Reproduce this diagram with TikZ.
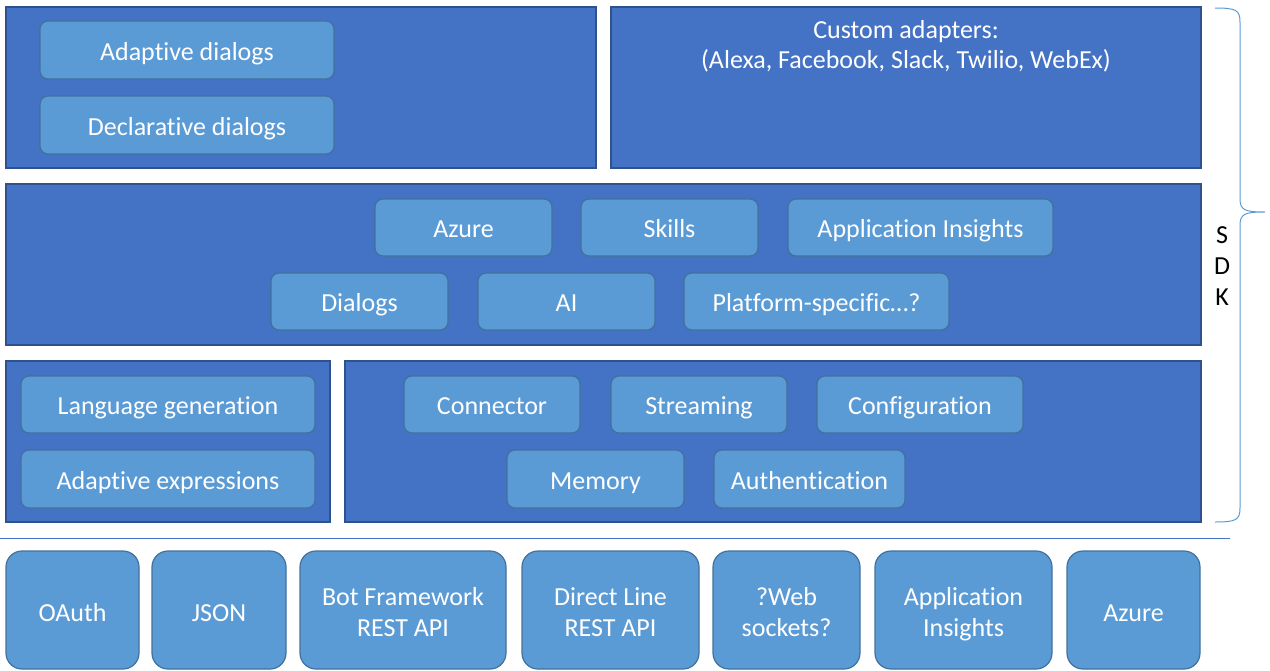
\documentclass[tikz,border=0pt]{standalone}
\usepackage{fontspec}
\setmainfont{Carlito}[Ligatures={NoCommon}]
\definecolor{panelfill}{HTML}{4472C4}
\definecolor{paneldraw}{HTML}{2F528F}
\definecolor{boxfill}{HTML}{5B9BD5}
\definecolor{boxdraw}{HTML}{41719C}
\begin{document}
\begin{tikzpicture}[x=1pt,y=-1pt,
  panel/.style={draw=paneldraw, fill=panelfill, line width=1.5pt, inner sep=0pt, minimum height=161pt},
  ibox/.style={draw=boxdraw, fill=boxfill, line width=1.2pt, rounded corners=8pt, inner sep=0pt, text=white,
     font=\fontsize{26}{31}\selectfont, text height=20pt, text depth=0pt},
  bbox/.style={draw=boxdraw, fill=boxfill, line width=1.2pt, rounded corners=16pt, inner sep=0pt, text=white,
     minimum height=118pt, font=\fontsize{26}{31}\selectfont, text height=22pt, text depth=0pt},
  lbl/.style={text=white, font=\fontsize{26}{31}\selectfont, inner sep=0pt, anchor=base},
  sdkl/.style={text=black, font=\fontsize{26}{31}\selectfont, inner sep=0pt, anchor=base}
]
\useasboundingbox (0,0) rectangle (1270,670);
% panels
\node[panel, minimum width=590pt] (ptl) at (301,87.5) {};
\node[panel, minimum width=590pt] (ptr) at (906,87.5) {};
\node[panel, minimum width=1195pt] (pmid) at (603.5,264.5) {};
\node[panel, minimum width=324pt] (pbl) at (168,441.5) {};
\node[panel, minimum width=856pt] (pbr) at (773,441.5) {};
\node[lbl] (cust1) at (906,38.5) {Custom adapters:};
\node[lbl] (cust2) at (906,68.5) {(Alexa, Facebook, Slack, Twilio, WebEx)};
% top-left boxes
\node[ibox, minimum width=294pt, minimum height=58pt] (adl) at (187,50) {Adaptive dialogs};
\node[ibox, minimum width=294pt, minimum height=58pt] (ddl) at (187,125) {Declarative dialogs};
% middle
\node[ibox, minimum width=177pt, minimum height=57pt] (az) at (463.5,227.5) {Azure};
\node[ibox, minimum width=177pt, minimum height=57pt] (sk) at (669.5,227.5) {Skills};
\node[ibox, minimum width=265pt, minimum height=57pt] (ai1) at (920.5,227.5) {Application Insights};
\node[ibox, minimum width=177pt, minimum height=57pt] (dl) at (359.5,301.5) {Dialogs};
\node[ibox, minimum width=177pt, minimum height=57pt] (aii) at (566.5,301.5) {AI};
\node[ibox, minimum width=265pt, minimum height=57pt] (pf) at (816.5,301.5) {Platform-specific…?};
% bottom-left
\node[ibox, minimum width=294pt, minimum height=57pt] (lg) at (168,404.5) {Language generation};
\node[ibox, minimum width=294pt, minimum height=58pt] (ae) at (168,479) {Adaptive expressions};
% bottom-right
\node[ibox, minimum width=176pt, minimum height=57pt] (cn) at (492,404.5) {Connector};
\node[ibox, minimum width=176pt, minimum height=57pt] (st) at (699,404.5) {Streaming};
\node[ibox, minimum width=206pt, minimum height=57pt] (cf) at (920,404.5) {Configuration};
\node[ibox, minimum width=177pt, minimum height=58pt] (mem) at (595.5,479) {Memory};
\node[ibox, minimum width=191pt, minimum height=58pt] (auth) at (809.5,479) {Authentication};
% separator
\coordinate (sepL) at (0,538.5);
\coordinate (sepR) at (1230,538.5);
\draw[panelfill, line width=1pt] (sepL) -- (sepR);
% bottom row
\node[bbox, minimum width=133pt] (oa) at (72.5,610) {OAuth};
\node[bbox, minimum width=134pt] (js) at (219,610) {JSON};
\node[bbox, minimum width=206pt] (bf) at (403,610) {};
\node[lbl] (bf1) at (403,605.5) {Bot Framework};
\node[lbl] (bf2) at (403,636.5) {REST API};
\node[bbox, minimum width=177pt] (dline) at (610.5,610) {};
\node[lbl] (dline1) at (610.5,605.5) {Direct Line};
\node[lbl] (dline2) at (610.5,636.5) {REST API};
\node[bbox, minimum width=147pt] (ws) at (786.5,610) {};
\node[lbl] (ws1) at (786.5,605.5) {?Web};
\node[lbl] (ws2) at (786.5,636.5) {sockets?};
\node[bbox, minimum width=177pt] (ai2) at (963.5,610) {};
\node[lbl] (ai21) at (963.5,605.5) {Application};
\node[lbl] (ai22) at (963.5,636.5) {Insights};
\node[bbox, minimum width=133pt] (az2) at (1133.5,610) {Azure};
% brace
\coordinate (bt) at (1215,8);
\coordinate (bb) at (1215,522);
\coordinate (btip) at (1265,212);
\draw[boxfill, line width=1pt] (bt) .. controls (1236,8) and (1240,10) .. (1240,22)
  -- (1240,198) .. controls (1240,210) and (1244,212) .. (btip)
  .. controls (1244,212) and (1240,214) .. (1240,226)
  -- (1240,508) .. controls (1240,520) and (1236,522) .. (bb);
\node[sdkl] (sdkS) at (1222,243.5) {S};
\node[sdkl] (sdkD) at (1222,274.5) {D};
\node[sdkl] (sdkK) at (1222,305.5) {K};
\end{tikzpicture}
\end{document}
